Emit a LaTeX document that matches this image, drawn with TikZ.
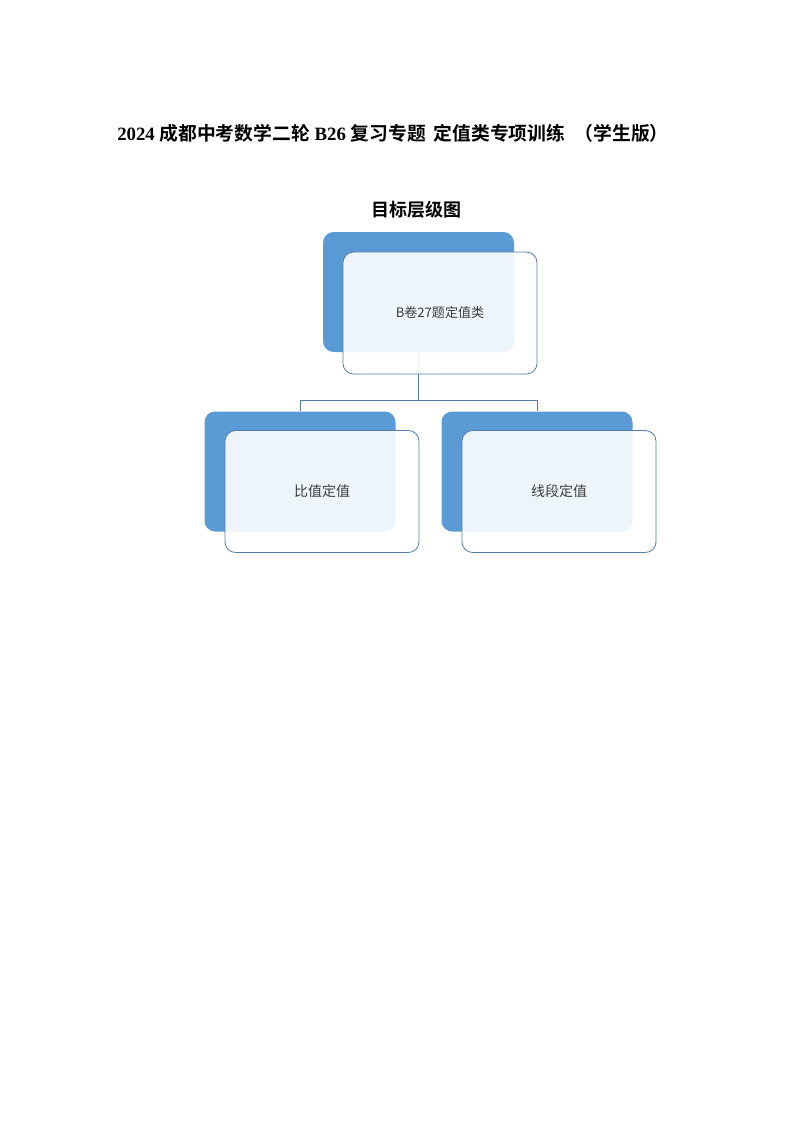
\documentclass[tikz,border=0pt]{standalone}
\usepackage{fontspec}
\setmainfont{Liberation Serif}
\newfontfamily\cjk{Noto Sans CJK SC}[BoldFont={Noto Sans CJK SC Bold}]
\usetikzlibrary{positioning}
\definecolor{boxblue}{RGB}{91,155,213}
\definecolor{edgeblue}{RGB}{84,125,165}
\definecolor{textgray}{RGB}{60,60,60}

\begin{document}
\begin{tikzpicture}[x=0.75pt,y=-0.75pt,
  backbox/.style={fill=boxblue,draw=none,rounded corners=8pt,minimum width=143.25pt,minimum height=90pt,inner sep=0pt},
  frontbox/.style={fill=white,fill opacity=0.9,text opacity=1,draw=edgeblue,line width=0.6pt,rounded corners=8pt,minimum width=145.5pt,minimum height=91.5pt,inner sep=0pt,text=textgray},
  link/.style={draw=edgeblue,line width=0.7pt}]
\useasboundingbox (0,0) rectangle (794,1122);

% title
\node[] (title) at (393,133) {\fontsize{14.1pt}{16pt}\selectfont\bfseries 2024 {\cjk 成都中考数学二轮} B26 {\cjk 复习专题}\ \,{\cjk 定值类专项训练}\ \ {\cjk （学生版）}};
\node[] (charttitle) at (416,210) {\fontsize{13.5pt}{15pt}\selectfont\cjk\bfseries 目标层级图};

% back boxes
\node[backbox] (topback) at (418.5,292) {};
\node[backbox] (leftback) at (300,471.5) {};
\node[backbox] (rightback) at (537,471.5) {};

% connectors
\path (leftback.north) ++(0,-11) coordinate (busL);
\draw[link] (topback.south) -- (topback.south |- busL);
\draw[link] (leftback.north) -- (busL) -| (rightback.north);

% front boxes
\node[frontbox] (topfront) at (440,313) {\fontsize{9.8pt}{11pt}\selectfont\cjk B卷27题定值类};
\node[frontbox] (leftfront) at (322,491.5) {\fontsize{10.5pt}{12pt}\selectfont\cjk 比值定值};
\node[frontbox] (rightfront) at (559,491.5) {\fontsize{10.5pt}{12pt}\selectfont\cjk 线段定值};

\end{tikzpicture}
\end{document}
